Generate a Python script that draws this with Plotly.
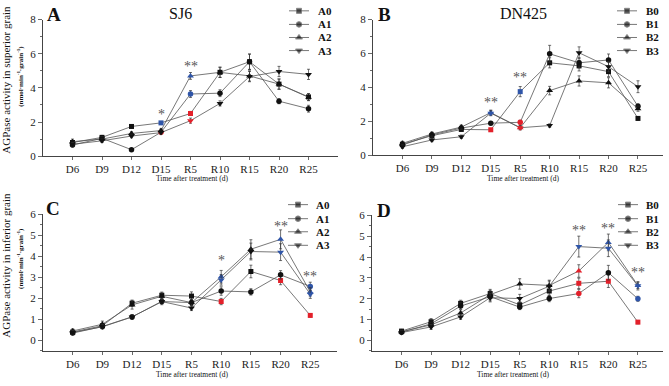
import plotly.graph_objects as go

W, H = 669, 386

categories = ["D6", "D9", "D12", "D15", "R5", "R10", "R15", "R20", "R25"]

# ---- Panel A: SJ6, superior grain ----
A0_sup = [0.80, 1.10, 1.74, 1.95, 2.50, 4.91, 5.53, 4.22, 3.47]
A1_sup = [0.65, 1.05, 0.38, 1.40, 3.64, 3.69, 5.53, 3.22, 2.78]
A2_sup = [0.85, 1.00, 1.33, 1.50, 4.70, 4.91, 4.70, 4.22, 3.45]
A3_sup = [0.70, 0.90, 1.18, 1.38, 2.08, 3.09, 4.66, 4.96, 4.79]
eA0_sup = [0.12, 0.12, 0.10, 0.08, 0.12, 0.30, 0.45, 0.30, 0.20]
eA1_sup = [0.10, 0.10, 0.06, 0.08, 0.20, 0.20, 0.45, 0.15, 0.20]
eA2_sup = [0.15, 0.15, 0.10, 0.10, 0.20, 0.30, 0.30, 0.30, 0.20]
eA3_sup = [0.10, 0.10, 0.10, 0.08, 0.15, 0.15, 0.30, 0.30, 0.30]
sA0_sup = ["", "", "", "b", "r", "", "", "", ""]
sA1_sup = ["", "", "", "r", "b", "", "", "", ""]
sA2_sup = ["", "", "", "", "b", "", "", "", ""]
sA3_sup = ["", "", "", "", "r", "", "", "", ""]

# ---- Panel B: DN425, superior grain ----
B0_sup = [0.65, 1.15, 1.52, 1.50, 3.75, 5.45, 5.27, 4.93, 2.17]
B1_sup = [0.60, 1.20, 1.60, 1.89, 1.94, 5.98, 5.45, 5.62, 2.88]
B2_sup = [0.70, 1.25, 1.66, 2.51, 1.62, 3.81, 4.38, 4.27, 2.74]
B3_sup = [0.50, 0.90, 1.09, 2.48, 1.62, 1.75, 6.04, 5.22, 4.04]
eB0_sup = [0.10, 0.12, 0.10, 0.08, 0.30, 0.30, 0.30, 0.30, 0.10]
eB1_sup = [0.10, 0.12, 0.10, 0.10, 0.12, 0.50, 0.30, 0.35, 0.15]
eB2_sup = [0.12, 0.12, 0.12, 0.15, 0.12, 0.25, 0.30, 0.30, 0.15]
eB3_sup = [0.10, 0.10, 0.10, 0.15, 0.12, 0.10, 0.35, 0.30, 0.35]
sB0_sup = ["", "", "", "r", "b", "", "", "", ""]
sB1_sup = ["", "", "", "", "r", "", "", "", ""]
sB2_sup = ["", "", "", "b", "r", "", "", "", ""]
sB3_sup = ["", "", "", "b", "r", "", "", "", ""]

# ---- Panel C: SJ6, inferior grain ----
A0_inf = [0.40, 0.70, 1.77, 2.15, 2.11, 1.85, 3.28, 2.85, 1.19]
A1_inf = [0.35, 0.66, 1.12, 1.85, 1.80, 2.35, 2.31, 3.12, 2.57]
A2_inf = [0.45, 0.77, 1.69, 2.10, 1.80, 3.03, 4.34, 4.81, 2.31]
A3_inf = [0.38, 0.65, 1.12, 1.85, 1.54, 2.88, 4.23, 4.20, 2.20]
eA0_inf = [0.08, 0.10, 0.15, 0.15, 0.20, 0.15, 0.30, 0.20, 0.08]
eA1_inf = [0.08, 0.10, 0.10, 0.10, 0.15, 0.20, 0.15, 0.20, 0.20]
eA2_inf = [0.10, 0.15, 0.20, 0.15, 0.15, 0.30, 0.45, 0.45, 0.20]
eA3_inf = [0.08, 0.10, 0.10, 0.15, 0.12, 0.25, 0.40, 0.40, 0.20]
sA0_inf = ["", "", "", "", "", "r", "", "r", "r"]
sA1_inf = ["", "", "", "", "", "", "", "", "b"]
sA2_inf = ["", "", "", "", "", "b", "", "b", "b"]
sA3_inf = ["", "", "", "", "", "b", "", "b", "b"]

# ---- Panel D: DN425, inferior grain ----
B0_inf = [0.45, 0.90, 1.78, 2.25, 1.71, 2.37, 2.74, 2.84, 0.88]
B1_inf = [0.40, 0.80, 1.65, 2.10, 1.60, 2.01, 2.25, 3.25, 2.00]
B2_inf = [0.42, 0.75, 1.32, 2.20, 2.71, 2.64, 3.33, 4.70, 2.64]
B3_inf = [0.38, 0.65, 1.13, 2.05, 2.01, 2.60, 4.50, 4.42, 2.62]
eB0_inf = [0.08, 0.15, 0.15, 0.20, 0.15, 0.20, 0.25, 0.30, 0.08]
eB1_inf = [0.08, 0.12, 0.15, 0.20, 0.12, 0.15, 0.20, 0.35, 0.12]
eB2_inf = [0.08, 0.12, 0.15, 0.20, 0.25, 0.25, 0.30, 0.40, 0.15]
eB3_inf = [0.08, 0.12, 0.12, 0.20, 0.20, 0.25, 0.50, 0.40, 0.20]
sB0_inf = ["", "", "", "", "", "", "r", "r", "r"]
sB1_inf = ["", "", "", "", "", "", "r", "", "b"]
sB2_inf = ["", "", "", "", "", "", "r", "b", "b"]
sB3_inf = ["", "", "", "", "", "", "b", "b", "b"]

# significance labels: (category index, y value, text)
stars_A = [(3, 2.45, "*"), (4, 5.25, "**")]
stars_B = [(3, 3.10, "**"), (4, 4.57, "**")]
stars_C = [(5, 3.80, "*"), (7, 5.40, "**"), (8, 3.05, "**")]
stars_D = [(6, 5.27, "**"), (7, 5.35, "**"), (8, 3.26, "**")]

names_A = ["A0", "A1", "A2", "A3"]
names_B = ["B0", "B1", "B2", "B3"]

# ---------------- styling ----------------
SERIF = "Liberation Serif, Times New Roman, serif"
BLUE = "#2f55a8"
RED = "#e3202a"
BLACK = "#111111"
LINE = "#555555"
symbols = ["square", "circle", "triangle-up", "triangle-down"]
msizes = [5, 5.5, 6, 6]
cmap = {"": BLACK, "b": BLUE, "r": RED}

xi = list(range(len(categories)))

fig = go.Figure()

panels = [
    ("x", "y", [A0_sup, A1_sup, A2_sup, A3_sup], [eA0_sup, eA1_sup, eA2_sup, eA3_sup],
     [sA0_sup, sA1_sup, sA2_sup, sA3_sup], names_A, stars_A),
    ("x2", "y2", [B0_sup, B1_sup, B2_sup, B3_sup], [eB0_sup, eB1_sup, eB2_sup, eB3_sup],
     [sB0_sup, sB1_sup, sB2_sup, sB3_sup], names_B, stars_B),
    ("x3", "y3", [A0_inf, A1_inf, A2_inf, A3_inf], [eA0_inf, eA1_inf, eA2_inf, eA3_inf],
     [sA0_inf, sA1_inf, sA2_inf, sA3_inf], names_A, stars_C),
    ("x4", "y4", [B0_inf, B1_inf, B2_inf, B3_inf], [eB0_inf, eB1_inf, eB2_inf, eB3_inf],
     [sB0_inf, sB1_inf, sB2_inf, sB3_inf], names_B, stars_D),
]

for xa, ya, series, errs, sigs, names, stars in panels:
    for k, (vals, ev, sg, nm) in enumerate(zip(series, errs, sigs, names)):
        fig.add_trace(go.Scatter(
            x=xi, y=vals, name=nm, xaxis=xa, yaxis=ya, mode="lines+markers",
            line=dict(color=LINE, width=0.8),
            marker=dict(symbol=symbols[k], size=msizes[k],
                        color=[cmap[s] for s in sg], line=dict(width=0)),
            error_y=dict(type="data", array=ev, color="#333333",
                         thickness=0.7, width=1.5),
            showlegend=False, cliponaxis=False, hoverinfo="skip",
        ))
    for ci, yv, txt in stars:
        fig.add_annotation(x=ci, y=yv, xref=xa, yref=ya, text=txt, showarrow=False,
                           font=dict(family=SERIF, size=14, color="#555555"))


def px(x, y):
    return x / W, 1 - y / H


def dom(x0, x1, y0, y1):
    return [x0 / W, x1 / W], [1 - y1 / H, 1 - y0 / H]


geo = {
    "1": dom(43, 338, 14, 155),
    "2": dom(373, 663, 14, 154),
    "3": dom(43, 337, 215, 356),
    "4": dom(372, 663, 216, 356),
}
xranges = {"1": [-1, 9], "2": [-1, 8.85], "3": [-1, 8.9], "4": [-1, 8.85]}
yranges = {"1": [0, 8], "2": [0, 8], "3": [-0.5, 6], "4": [-0.5, 6]}
ydtick = {"1": 2, "2": 2, "3": 1, "4": 1}
ymin = {"1": 1, "2": 1, "3": 0.5, "4": 0.5}

layout = dict(
    width=W, height=H, margin=dict(l=0, r=0, t=0, b=0),
    paper_bgcolor="white", plot_bgcolor="rgba(0,0,0,0)",
    showlegend=False, hovermode=False,
)
for key in ["1", "2", "3", "4"]:
    sx = "" if key == "1" else key
    (dx, dy) = geo[key]
    layout["xaxis" + sx] = dict(
        domain=dx, range=xranges[key], anchor="y" + sx,
        tickmode="array", tickvals=xi, ticktext=categories,
        ticks="outside", ticklen=3, tickcolor="#444", tickwidth=0.8,
        showline=True, linecolor="#444", linewidth=1, showgrid=False, zeroline=False,
        tickfont=dict(family=SERIF, size=11, color="#222"),
    )
    layout["yaxis" + sx] = dict(
        domain=dy, range=yranges[key], anchor="x" + sx,
        tick0=0, dtick=ydtick[key], ticks="outside", ticklen=4, tickcolor="#444",
        tickwidth=0.8,
        minor=dict(dtick=ymin[key], ticks="outside", ticklen=2, tickcolor="#444"),
        showline=True, linecolor="#444", linewidth=1, showgrid=False, zeroline=False,
        tickfont=dict(family=SERIF, size=11, color="#222"),
    )
# pixel overlay axis used only for the hand-drawn legends
layout["xaxis5"] = dict(domain=[0, 1], range=[0, W], visible=False, anchor="y5", fixedrange=True)
layout["yaxis5"] = dict(domain=[0, 1], range=[H, 0], visible=False, anchor="x5", fixedrange=True)
fig.update_layout(**layout)


def txt(x, y, s, size, bold=False, angle=0, color="#111", anchor="center"):
    ax, ay = px(x, y)
    fig.add_annotation(x=ax, y=ay, xref="paper", yref="paper",
                       text=("<b>%s</b>" % s) if bold else s, showarrow=False,
                       textangle=angle, xanchor=anchor, yanchor="middle",
                       font=dict(family=SERIF, size=size, color=color))


# legends (manually drawn)
legend_spec = [
    (names_A, 289, 309, 316, [5, 19, 32.5, 46]),
    (names_B, 617, 637, 644, [5, 19, 32.5, 46]),
    (names_A, 288, 308, 314, [205, 219.5, 233, 247]),
    (names_B, 618, 638, 644, [205, 219.5, 233, 247]),
]
for names, lx0, lx1, tx, rows in legend_spec:
    for k, (nm, ry) in enumerate(zip(names, rows)):
        fig.add_trace(go.Scatter(
            x=[lx0, (lx0 + lx1) / 2, lx1], y=[ry, ry, ry], xaxis="x5", yaxis="y5",
            mode="lines+markers", line=dict(color=LINE, width=0.8),
            marker=dict(symbol=symbols[k], size=[0, msizes[k], 0], color=BLACK),
            showlegend=False, hoverinfo="skip", cliponaxis=False,
        ))
        txt(tx, ry, nm, 11, bold=True, anchor="left")

# texts: panel letters, titles, axis titles
txt(54, 9, "A", 19, bold=True)
txt(384, 9, "B", 19, bold=True)
txt(53, 209, "C", 19, bold=True)
txt(384, 211, "D", 19, bold=True)
txt(180, 8, "SJ6", 16)
txt(523, 8, "DN425", 16)

txt(6, 76, "AGPase activity in superior grain", 11, angle=-90)
txt(21, 73, "(nmol·min<sup>-1</sup>·grain<sup>-1</sup>)", 7, bold=True, angle=-90)
txt(6, 268, "AGPase activity in inferior grain", 11, angle=-90)
txt(21, 261, "(nmol·min<sup>-1</sup>·grain<sup>-1</sup>)", 7, bold=True, angle=-90)

for cx, cy in [(192, 178), (523, 178), (192, 380), (513, 380)]:
    txt(cx, cy, "Time after treatment (d)", 7.5)

fig.write_html(
    "out.html",
    config={"displayModeBar": False, "staticPlot": True},
    post_script="document.body.style.margin='0';document.body.style.overflow='hidden';",
)
